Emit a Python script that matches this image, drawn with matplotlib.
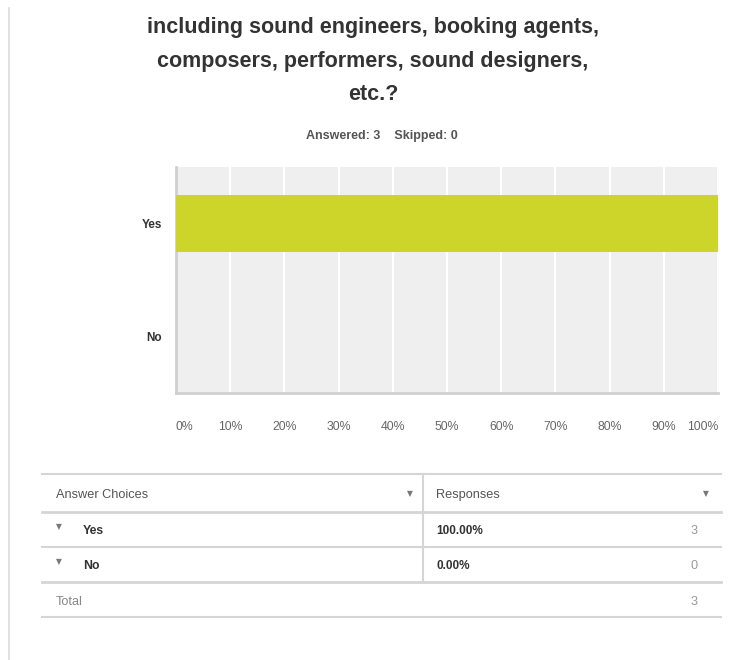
import matplotlib
matplotlib.use("Agg")
import matplotlib.pyplot as plt
from matplotlib.lines import Line2D

plt.rcParams['font.family'] = ['Liberation Sans', 'DejaVu Sans']

# ---- data ----
title_lines = ["including sound engineers, booking agents,",
               "composers, performers, sound designers,",
               "etc.?"]
answered = 3
skipped = 0
categories = ["Yes", "No"]
percentages = [100.0, 0.0]
counts = [3, 0]
total = 3
xticks = [0, 10, 20, 30, 40, 50, 60, 70, 80, 90, 100]
xtick_labels = ["0%", "10%", "20%", "30%", "40%", "50%", "60%", "70%", "80%", "90%", "100%"]

W, H = 747, 660
fig = plt.figure(figsize=(W / 100, H / 100), dpi=100)
fig.patch.set_facecolor("white")

def fx(x):
    return x / W

def fy(y):
    return 1 - y / H

# left border line of the panel
fig.add_artist(Line2D([fx(9), fx(9)], [fy(8), fy(660)], color="#dcdcdc", lw=1.2))

# title
for y, line in zip([27, 61, 94], title_lines):
    fig.text(fx(373), fy(y), line, ha="center", va="center", fontsize=15.5,
             fontweight="bold", color="#333333")

fig.text(fx(382), fy(136), f"Answered: {answered}    Skipped: {skipped}", ha="center",
         va="center", fontsize=9, fontweight="bold", color="#555555")

# chart
ax = fig.add_axes([fx(176), fy(393), fx(718) - fx(176), (393 - 167) / H])
ax.set_facecolor("#efefef")
ypos = list(range(len(categories)))
ax.barh(ypos, percentages, height=0.5, color="#cdd52a", zorder=3)
ax.set_xlim(0, 100)
ax.set_ylim(len(categories) - 0.5, -0.5)
ax.set_xticks(xticks)
ax.set_xticklabels(xtick_labels)
ax.set_yticks(ypos)
ax.set_yticklabels(categories, fontweight="bold", fontsize=8.5, color="#333333")
ax.tick_params(axis="both", length=0)
ax.tick_params(axis="x", labelsize=8.8, labelcolor="#666666", pad=20)
ax.tick_params(axis="y", pad=10)
ax.grid(axis="x", color="white", lw=1.5, zorder=1)
tl = ax.get_xticklabels()
tl[0].set_ha("left")
tl[-1].set_ha("right")
for s in ["top", "right"]:
    ax.spines[s].set_visible(False)
for s in ["left", "bottom"]:
    ax.spines[s].set_color("#d0d0d0")
    ax.spines[s].set_linewidth(2)

# table
lc = "#d5d5d5"
def hline(y, lw=1.5):
    fig.add_artist(Line2D([fx(42), fx(721)], [fy(y), fy(y)], color=lc, lw=lw))

hline(474)
hline(512, 2)
hline(547)
hline(582, 2)
hline(617)
fig.add_artist(Line2D([fx(423), fx(423)], [fy(474), fy(582)], color=lc, lw=1.5))

tfs = 9.2
fig.text(fx(56), fy(495), "Answer Choices", ha="left", va="center", fontsize=tfs,
         color="#555555")
fig.text(fx(436), fy(495), "Responses", ha="left", va="center", fontsize=tfs,
         color="#555555")
for x in [410, 706]:
    fig.text(fx(x), fy(494), "\u25BC", ha="center", va="center", fontsize=5.5, color="#777777",
             family="DejaVu Sans")

row_y = [531, 566]
for y, cat, p, c in zip(row_y, categories, percentages, counts):
    fig.text(fx(59), fy(y - 4), "\u25BC", ha="center", va="center", fontsize=5.5,
             color="#777777", family="DejaVu Sans")
    fig.text(fx(83), fy(y), cat, ha="left", va="center", fontsize=8.8,
             fontweight="bold", color="#333333")
    fig.text(fx(436), fy(y), f"{p:.2f}%", ha="left", va="center", fontsize=8.5,
             fontweight="bold", color="#333333")
    fig.text(fx(698), fy(y), str(c), ha="right", va="center", fontsize=tfs,
             color="#999999")

fig.text(fx(56), fy(602), "Total", ha="left", va="center", fontsize=tfs,
         color="#888888")
fig.text(fx(698), fy(602), str(total), ha="right", va="center", fontsize=tfs,
         color="#999999")

fig.savefig("out.png", dpi=100, facecolor="white")
